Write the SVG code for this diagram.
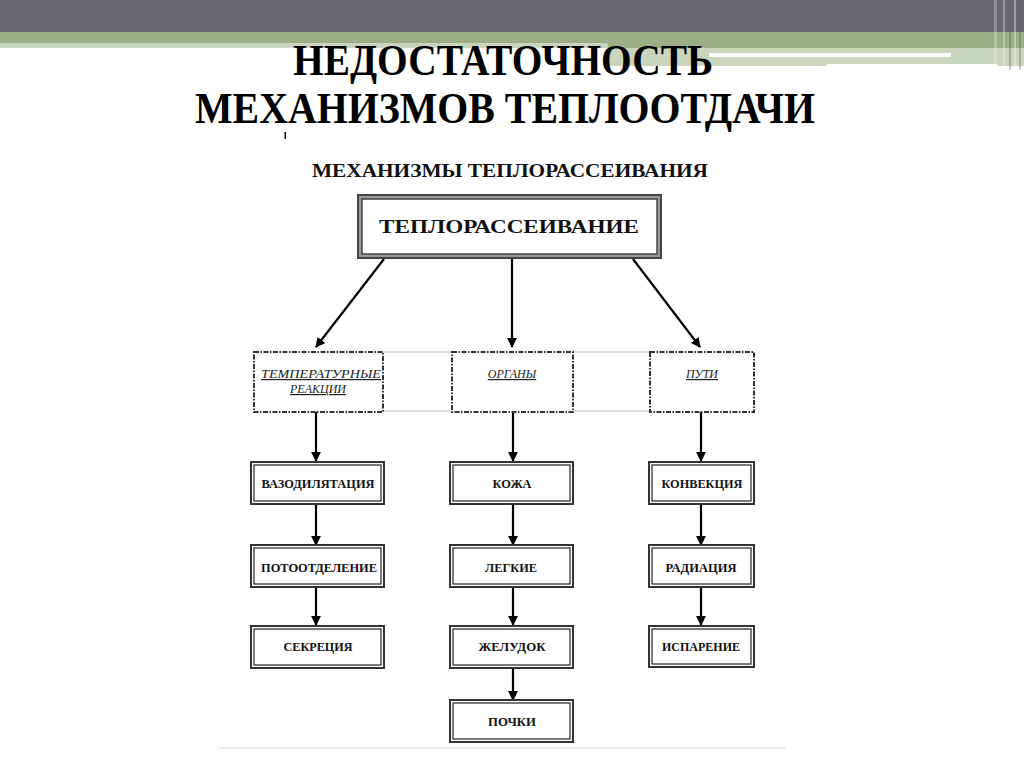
<svg xmlns="http://www.w3.org/2000/svg" width="1024" height="767" viewBox="0 0 1024 767">
<defs>
<marker id="ah" viewBox="0 0 10 10" refX="9" refY="5" markerWidth="4.5" markerHeight="4.5" orient="auto" markerUnits="strokeWidth">
<path d="M0,0 L10,5 L0,10 z" fill="#000"/>
</marker>
<style>
.title{font-family:"Liberation Serif","Times New Roman",serif;font-weight:bold;font-size:44px;fill:#000}
.sub{font-family:"Liberation Serif","Times New Roman",serif;font-weight:bold;font-size:19px;fill:#111}
.main{font-family:"Liberation Serif","Times New Roman",serif;font-weight:bold;font-size:18px;fill:#111}
.cat{font-family:"Liberation Serif","Times New Roman",serif;font-style:italic;font-size:12px;fill:#222;text-decoration:underline}
.lbl{font-family:"Liberation Serif","Times New Roman",serif;font-weight:bold;font-size:12px;fill:#111}
.dash{fill:#fff;stroke:#333;stroke-width:2;stroke-dasharray:5 1.5 1.5 1.5}
.outer{fill:#fff;stroke:#333;stroke-width:2}
.inner{fill:none;stroke:#333;stroke-width:1.3}
.conn{stroke:#000;stroke-width:2.2;fill:none;marker-end:url(#ah)}
</style>
</defs>
<rect width="1024" height="767" fill="#fff"/>
<g id="header">
<rect x="0" y="0" width="1024" height="32" fill="#6a676f"/>
<rect x="0" y="32" width="1024" height="11" fill="#9dae87"/>
<rect x="0" y="43" width="1024" height="5" fill="#c9d5bd"/>
<rect x="608" y="43" width="416" height="5" fill="#9dae87"/>
<rect x="608" y="48" width="416" height="18" fill="#c9d5bd"/>
<rect x="709" y="53" width="242" height="4" fill="#fff"/>
<rect x="827" y="64" width="170" height="10" fill="#fff"/>
<rect x="994" y="0" width="3" height="68" fill="#fff" opacity="0.25"/>
<rect x="1003" y="0" width="2" height="68" fill="#fff" opacity="0.3"/>
<rect x="1009" y="0" width="2" height="70" fill="#555" opacity="0.3"/>
<rect x="1014" y="0" width="2" height="70" fill="#fff" opacity="0.35"/>
<rect x="1019" y="0" width="2" height="70" fill="#555" opacity="0.3"/>
</g>
<g id="title">
<text class="title" x="503" y="75" text-anchor="middle" textLength="420" lengthAdjust="spacingAndGlyphs">НЕДОСТАТОЧНОСТЬ</text>
<text class="title" x="505" y="123" text-anchor="middle" textLength="620" lengthAdjust="spacingAndGlyphs">МЕХАНИЗМОВ ТЕПЛООТДАЧИ</text>
<rect x="284.5" y="132" width="1.5" height="7" fill="#000"/>
<text class="sub" x="510" y="177" text-anchor="middle" textLength="396" lengthAdjust="spacingAndGlyphs">МЕХАНИЗМЫ ТЕПЛОРАССЕИВАНИЯ</text>
</g>
<g id="grid" stroke="#bbb" stroke-width="1.2">
<line x1="383" y1="352" x2="452" y2="352"/>
<line x1="573" y1="352" x2="650" y2="352"/>
<line x1="383" y1="411" x2="452" y2="411"/>
<line x1="573" y1="411" x2="650" y2="411"/>
</g>
<g id="connectors">
<line class="conn" x1="384" y1="259" x2="316" y2="347"/>
<line class="conn" x1="512" y1="259" x2="512" y2="347"/>
<line class="conn" x1="633" y1="259" x2="700" y2="347"/>
<line class="conn" x1="316" y1="412" x2="316" y2="461"/>
<line class="conn" x1="513" y1="412" x2="513" y2="461"/>
<line class="conn" x1="701" y1="412" x2="701" y2="461"/>
<line class="conn" x1="316" y1="504" x2="316" y2="545"/>
<line class="conn" x1="513" y1="504" x2="513" y2="545"/>
<line class="conn" x1="701" y1="504" x2="701" y2="545"/>
<line class="conn" x1="316" y1="587" x2="316" y2="625"/>
<line class="conn" x1="513" y1="587" x2="513" y2="625"/>
<line class="conn" x1="701" y1="587" x2="701" y2="625"/>
<line class="conn" x1="513" y1="668" x2="513" y2="700"/>
</g>
<g id="n-root">
<rect x="358" y="195" width="303" height="63" fill="#999" stroke="#444" stroke-width="2"/>
<rect x="362" y="199" width="295" height="55" fill="#fff" stroke="#444" stroke-width="1.5"/>
<text class="main" x="509" y="233" text-anchor="middle" textLength="260" lengthAdjust="spacingAndGlyphs">ТЕПЛОРАССЕИВАНИЕ</text>
</g>
<g id="n-temp">
<rect class="dash" x="254" y="352" width="129" height="60"/>
<text class="cat" x="321" y="378" text-anchor="middle" textLength="120" lengthAdjust="spacingAndGlyphs">ТЕМПЕРАТУРНЫЕ</text>
<text class="cat" x="318" y="393" text-anchor="middle">РЕАКЦИИ</text>
</g>
<g id="n-org">
<rect class="dash" x="452" y="352" width="121" height="60"/>
<text class="cat" x="512" y="378" text-anchor="middle">ОРГАНЫ</text>
</g>
<g id="n-path">
<rect class="dash" x="650" y="352" width="104" height="60"/>
<text class="cat" x="702" y="378" text-anchor="middle">ПУТИ</text>
</g>
<g id="n-vaso">
<rect class="outer" x="251" y="462" width="133" height="42"/><rect class="inner" x="254" y="465" width="127" height="36"/>
<text class="lbl" x="318" y="488" text-anchor="middle" textLength="113" lengthAdjust="spacingAndGlyphs">ВАЗОДИЛЯТАЦИЯ</text>
</g>
<g id="n-skin">
<rect class="outer" x="450" y="462" width="123" height="42"/><rect class="inner" x="453" y="465" width="117" height="36"/>
<text class="lbl" x="512" y="488" text-anchor="middle" textLength="39" lengthAdjust="spacingAndGlyphs">КОЖА</text>
</g>
<g id="n-conv">
<rect class="outer" x="649" y="462" width="105" height="42"/><rect class="inner" x="652" y="465" width="99" height="36"/>
<text class="lbl" x="702" y="488" text-anchor="middle" textLength="81" lengthAdjust="spacingAndGlyphs">КОНВЕКЦИЯ</text>
</g>
<g id="n-sweat">
<rect class="outer" x="251" y="545" width="133" height="42"/><rect class="inner" x="254" y="548" width="127" height="36"/>
<text class="lbl" x="319" y="572" text-anchor="middle" textLength="116" lengthAdjust="spacingAndGlyphs">ПОТООТДЕЛЕНИЕ</text>
</g>
<g id="n-lung">
<rect class="outer" x="450" y="545" width="123" height="42"/><rect class="inner" x="453" y="548" width="117" height="36"/>
<text class="lbl" x="511" y="572" text-anchor="middle" textLength="52" lengthAdjust="spacingAndGlyphs">ЛЕГКИЕ</text>
</g>
<g id="n-rad">
<rect class="outer" x="649" y="545" width="105" height="42"/><rect class="inner" x="652" y="548" width="99" height="36"/>
<text class="lbl" x="701" y="572" text-anchor="middle" textLength="71" lengthAdjust="spacingAndGlyphs">РАДИАЦИЯ</text>
</g>
<g id="n-secr">
<rect class="outer" x="251" y="626" width="133" height="42"/><rect class="inner" x="254" y="629" width="127" height="36"/>
<text class="lbl" x="318" y="651" text-anchor="middle" textLength="69" lengthAdjust="spacingAndGlyphs">СЕКРЕЦИЯ</text>
</g>
<g id="n-stom">
<rect class="outer" x="450" y="626" width="123" height="42"/><rect class="inner" x="453" y="629" width="117" height="36"/>
<text class="lbl" x="512" y="651" text-anchor="middle" textLength="67" lengthAdjust="spacingAndGlyphs">ЖЕЛУДОК</text>
</g>
<g id="n-evap">
<rect class="outer" x="649" y="626" width="105" height="41"/><rect class="inner" x="652" y="629" width="99" height="35"/>
<text class="lbl" x="701" y="651" text-anchor="middle" textLength="78" lengthAdjust="spacingAndGlyphs">ИСПАРЕНИЕ</text>
</g>
<g id="n-kid">
<rect class="outer" x="450" y="700" width="123" height="42"/><rect class="inner" x="453" y="703" width="117" height="36"/>
<text class="lbl" x="512" y="726" text-anchor="middle" textLength="48" lengthAdjust="spacingAndGlyphs">ПОЧКИ</text>
</g>
<line x1="219" y1="748" x2="786" y2="748" stroke="#eee" stroke-width="2"/>
</svg>
